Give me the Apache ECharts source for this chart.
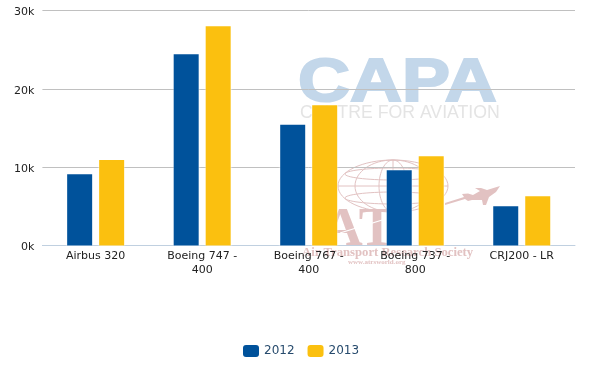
<!DOCTYPE html>
<html><head><meta charset="utf-8">
<style>html,body{margin:0;padding:0;background:#fff}#c{width:600px;height:370px}</style>
<script src="https://cdn.jsdelivr.net/npm/echarts@6/dist/echarts.min.js"></script>
</head><body><div id="c"></div>
<script>
const categories = ['Airbus 320','Boeing 747 -\n400','Boeing 767 -\n400','Boeing 737 -\n800','CRJ200 - LR'];
const values2012 = [9100,24400,15400,9600,5000];
const values2013 = [10900,28000,17900,11400,6300];
const yTicks = {min:0,max:30000,interval:10000};
const font = '"DejaVu Sans"';
const pink = '#e2c2c2';
const globe = (shape,type='ellipse') => ({type,shape,z:-1,silent:true,style:{fill:'none',stroke:pink,lineWidth:1}});
const chart = echarts.init(document.getElementById('c'),null,{renderer:'canvas'});
chart.setOption({
  animation:false,
  backgroundColor:'#fff',
  grid:{left:42.4,right:25,top:10.5,bottom:124.5,containLabel:false},
  legend:{
    top:345,left:243,padding:0,itemWidth:16,itemHeight:12,itemGap:13,
    icon:'roundRect',
    textStyle:{color:'#274b6d',fontFamily:font,fontSize:12,padding:[1,0,0,0]},
    data:['2012','2013']
  },
  xAxis:{
    type:'category',data:categories,
    axisLine:{lineStyle:{color:'#c0d0e0',width:1}},
    axisTick:{alignWithLabel:true,length:5,lineStyle:{color:'#c0d0e0'}},
    axisLabel:{color:'#222',fontFamily:font,fontSize:11,margin:4,lineHeight:14,interval:0}
  },
  yAxis:{
    type:'value',...yTicks,
    axisLine:{show:false},axisTick:{show:false},
    splitLine:{lineStyle:{color:'#c0c0c0',width:1}},
    axisLabel:{color:'#222',fontFamily:font,fontSize:11,margin:8,formatter:v=>'{a|'+(v/1000)+'k}',
      rich:{a:{color:'#222',fontFamily:font,fontSize:11,padding:[4,0,0,0]}}}
  },
  series:[
    {name:'2012',type:'bar',data:values2012,barWidth:25,barGap:'28%',
     itemStyle:{color:'#00529b',shadowColor:'#fff',shadowBlur:2}},
    {name:'2013',type:'bar',data:values2013,barWidth:25,barGap:'28%',
     itemStyle:{color:'#fbc00f',shadowColor:'#fff',shadowBlur:2}}
  ],
  graphic:[
    {type:'text',z:-1,silent:true,x:298,y:54,scaleX:1.18,style:{text:'CAPA',font:'bold 61px "Liberation Sans"',fill:'#c3d7ea',stroke:'#c3d7ea',lineWidth:2}},
    {type:'text',z:-1,silent:true,x:300,y:104,style:{text:'CENTRE FOR AVIATION',font:'17.7px "Liberation Sans"',fill:'#e4e4e4'}},
    globe({cx:393,cy:186,rx:55,ry:26}),
    globe({cx:393,cy:186,rx:38,ry:26}),
    globe({cx:393,cy:186,rx:14,ry:26}),
    globe({x1:338,y1:186,x2:448,y2:186},'line'),
    globe({x1:393,y1:160,x2:393,y2:212},'line'),
    globe({cx:393,cy:174,rx:48,ry:6}),
    globe({cx:393,cy:198,rx:48,ry:6}),
    {type:'polygon',z:-1,silent:true,shape:{points:[[445,203],[464,197],[462,194],[468,193.5],[473,195],[480,191],[475,188],[481,188],[487,190],[500,186],[496,192],[489,197],[486,205],[483,205],[482,200],[472,200],[468,201],[465,199],[445,205]]},style:{fill:pink}},
    {type:'text',z:-1,silent:true,x:323,y:203,style:{text:'AT',font:'bold 55px "Liberation Serif"',fill:'#e2c2c2'}},
    {type:'line',z:-1,silent:true,shape:{x1:340,y1:233,x2:392,y2:217},style:{stroke:'#fff',lineWidth:1.2}},
    {type:'text',z:-1,silent:true,x:302,y:246,style:{text:'Air Transport Research Society',font:'bold 12.7px "Liberation Serif"',fill:'#e2c2c2'}},
    {type:'text',z:-1,silent:true,x:348,y:259,style:{text:'www.atrsworld.org',font:'bold 7px "Liberation Serif"',fill:'#e2c2c2'}}
  ]
});
</script></body></html>
